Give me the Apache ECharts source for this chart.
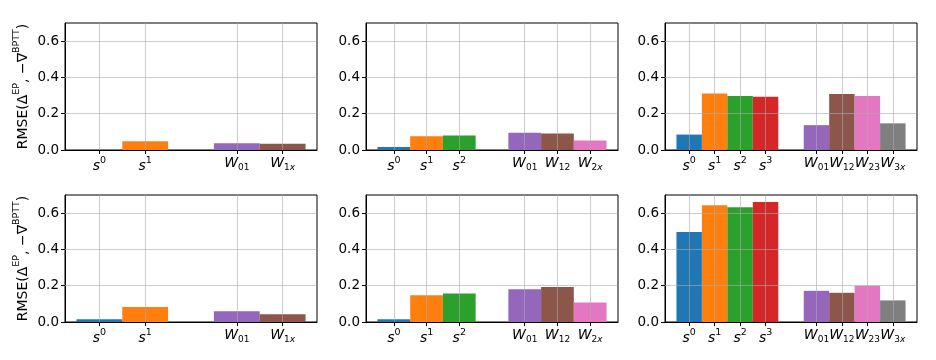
<!DOCTYPE html>
<html>
<head>
<meta charset="utf-8">
<script src="https://cdn.jsdelivr.net/npm/echarts@6/dist/echarts.min.js"></script>
<style>
  html, body { margin: 0; padding: 0; background: #fff; }
  #chart { width: 936px; height: 360px; }
</style>
</head>
<body>
<div id="chart"></div>
<script>
// tick tags for each column (2, 3, 4 layers)
const stateTags = [['0', '1'], ['0', '1', '2'], ['0', '1', '2', '3']]
const weightTags = [['01', '1x'], ['01', '12', '2x'], ['01', '12', '23', '3x']]

// RMSE values, top row
const topStates = [[0.0, 0.048], [0.017, 0.076, 0.080], [0.085, 0.311, 0.298, 0.294]]
const topWeights = [[0.037, 0.034], [0.095, 0.091, 0.052], [0.137, 0.309, 0.298, 0.147]]
// RMSE values, bottom row
const bottomStates = [[0.015, 0.083], [0.015, 0.148, 0.157], [0.496, 0.643, 0.633, 0.661]]
const bottomWeights = [[0.059, 0.043], [0.181, 0.193, 0.107], [0.172, 0.161, 0.200, 0.119]]

const yTicks = [0, 0.2, 0.4, 0.6]

const stateColors = ['#1f77b4', '#ff7f0e', '#2ca02c', '#d62728']
const weightColors = ['#9467bd', '#8c564b', '#e377c2', '#7f7f7f']

const FONT = 'DejaVu Sans'
const gridLeft = [65, 366, 665]
const gridTop = [23, 195]
const gridW = 252
const gridH = 127
const gridColor = 'rgba(170,170,170,0.6)'

const chart = echarts.init(document.getElementById('chart'))

// W_{1x}: digits upright, the x italic
const subText = t => t.split('').map(ch => ch === 'x' ? '{subi|x}' : '{sub|' + ch + '}').join('')

const grids = [], xAxes = [], yAxes = [], series = []

for (let r = 0; r < 2; r++) {
    for (let c = 0; c < 3; c++) {
        const idx = r * 3 + c
        const sv = r === 0 ? topStates[c] : bottomStates[c]
        const wv = r === 0 ? topWeights[c] : bottomWeights[c]
        const ns = stateTags[c].length
        const n = ns + 1 + weightTags[c].length
        const xmin = -0.5 - 0.05 * n
        const xmax = n - 0.5 + 0.05 * n
        const barW = gridW / (xmax - xmin)

        const positions = []
        const labels = {}
        const data = []
        stateTags[c].forEach((t, i) => {
            positions.push(i)
            labels[i] = '{m|s}{sup|' + t + '}'
            data.push({ value: [i, sv[i]], itemStyle: { color: stateColors[i] } })
        })
        weightTags[c].forEach((t, j) => {
            const p = ns + 1 + j
            positions.push(p)
            labels[p] = '{m|W}' + subText(t)
            data.push({ value: [p, wv[j]], itemStyle: { color: weightColors[j] } })
        })

        grids.push({
            left: gridLeft[c], top: gridTop[r], width: gridW, height: gridH,
            show: true, borderColor: '#000', borderWidth: 1, backgroundColor: 'transparent'
        })

        xAxes.push({
            type: 'value', gridIndex: idx, min: xmin, max: xmax,
            axisLine: { show: true, onZero: false, lineStyle: { color: '#000', width: 1 } },
            axisTick: { show: true, customValues: positions, length: 4, lineStyle: { color: '#000' } },
            splitLine: { show: false },
            axisLabel: {
                customValues: positions,
                margin: 6,
                hideOverlap: false,
                showMinLabel: true,
                showMaxLabel: true,
                formatter: v => labels[Math.round(v)] || '',
                rich: {
                    m: { fontFamily: FONT, fontStyle: 'italic', fontSize: 14, color: '#000', verticalAlign: 'bottom', padding: [0, 0, 2, 0] },
                    sup: { fontFamily: FONT, fontSize: 9.5, color: '#000', verticalAlign: 'bottom', padding: [0, 0, 9, 0] },
                    sub: { fontFamily: FONT, fontSize: 9, color: '#000', verticalAlign: 'bottom' },
                    subi: { fontFamily: FONT, fontStyle: 'italic', fontSize: 9, color: '#000', verticalAlign: 'bottom' }
                }
            }
        })

        yAxes.push({
            type: 'value', gridIndex: idx, min: 0, max: 0.7,
            axisLine: { show: true, onZero: false, lineStyle: { color: '#000', width: 1 } },
            axisTick: { show: true, customValues: yTicks, length: 4, lineStyle: { color: '#000' } },
            splitLine: { show: false },
            axisLabel: {
                customValues: yTicks,
                margin: 6,
                fontFamily: FONT, fontSize: 13.5, color: '#000',
                formatter: v => v.toFixed(1)
            },
            name: c === 0 ? '{t|RMSE(Δ}{sup|EP}{t|, −∇}{sup|BPTT}{t|)}' : '',
            nameLocation: 'middle',
            nameRotate: 90,
            nameGap: 35,
            nameTextStyle: {
                rich: {
                    t: { fontFamily: FONT, fontSize: 14, color: '#000', verticalAlign: 'bottom' },
                    sup: { fontFamily: FONT, fontSize: 9.5, color: '#000', verticalAlign: 'bottom', padding: [0, 0, 8, 0] }
                }
            }
        })

        // grid lines are drawn over the bars, as in the reference
        const lines = positions.map(p => ({ xAxis: p }))
            .concat(yTicks.filter(v => v > 0).map(v => ({ yAxis: v })))

        series.push({
            type: 'bar', xAxisIndex: idx, yAxisIndex: idx,
            barWidth: barW,
            data: data,
            silent: true,
            markLine: {
                silent: true,
                symbol: ['none', 'none'],
                label: { show: false },
                lineStyle: { color: gridColor, width: 1, type: 'solid' },
                emphasis: { disabled: true },
                data: lines
            }
        })
    }
}

chart.setOption({
    animation: false,
    backgroundColor: '#fff',
    grid: grids,
    xAxis: xAxes,
    yAxis: yAxes,
    series: series
})
</script>
</body>
</html>
